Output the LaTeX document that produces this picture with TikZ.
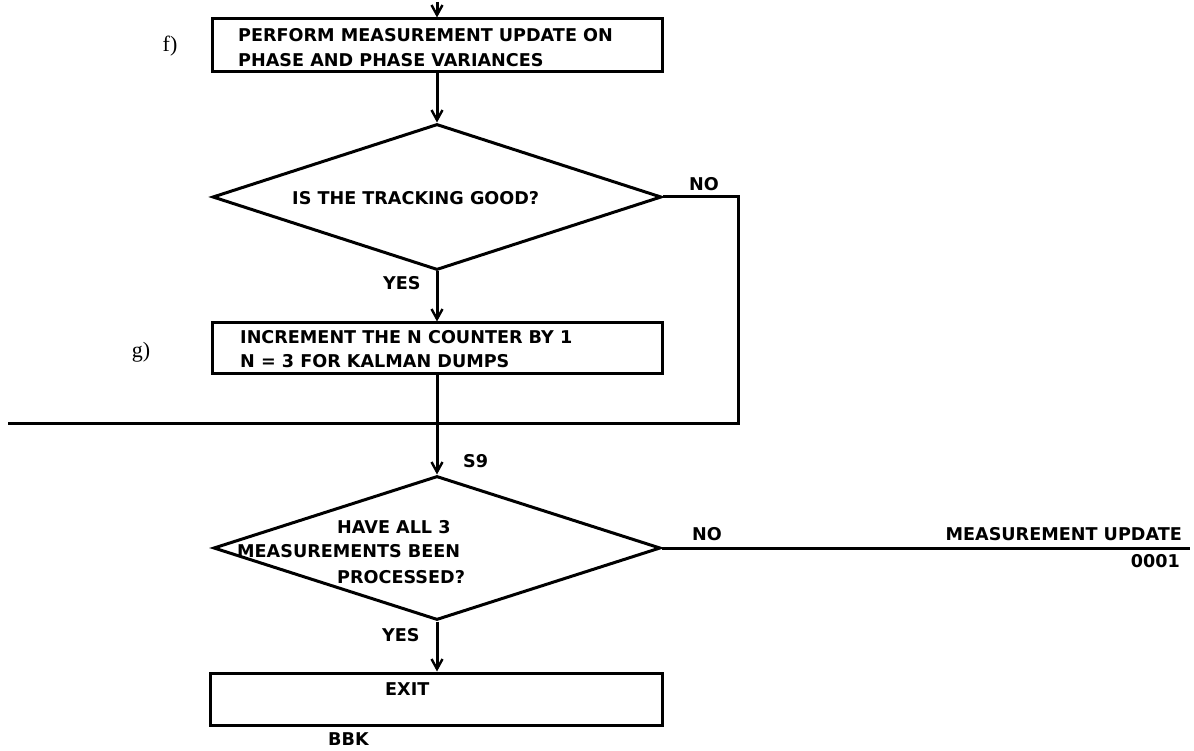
\documentclass[tikz,border=0pt]{standalone}
\usepackage{fontspec}
\setmainfont{DejaVu Sans}
\newfontfamily\labfont{Liberation Serif}
\usetikzlibrary{shapes.geometric,arrows.meta}
\tikzset{
  ln/.style={line width=3pt},
  arr/.style={ln,-{Straight Barb[length=10pt,width=11pt,line width=2.4pt]}},
  boxnode/.style={draw,line width=3pt,minimum width=#1,inner sep=0pt},
  dia/.style={draw,diamond,line width=3pt,inner sep=0pt},
  txt/.style={inner sep=0pt,anchor=base west,font=\fontsize{17.6}{19}\selectfont\bfseries},
  lab/.style={inner sep=0pt,font=\labfont\fontsize{22}{24}\selectfont}
}
\begin{document}
\begin{tikzpicture}[x=1pt,y=-1pt]
\useasboundingbox (0,0) rectangle (1194,751);
\fill[white] (0,0) rectangle (1194,751);
% boxes and decisions
\node[boxnode=450pt,minimum height=53pt] (f) at (437,45.5) {};
\node[txt] (ft1) at (238,42) {PERFORM MEASUREMENT UPDATE ON};
\node[txt] (ft2) at (238,67) {PHASE AND PHASE VARIANCES};
\node[lab] (flab) at (170,46) {f)};
\node[dia,minimum width=449pt,minimum height=146pt] (d1) at (437,197) {};
\node[txt] (d1t) at (292,205) {IS THE TRACKING GOOD?};
\node[txt] (no1) at (689,191) {NO};
\node[txt] (yes1) at (383,290) {YES};
\node[boxnode=450pt,minimum height=50pt] (g) at (437,348) {};
\node[txt] (gt1) at (240,344) {INCREMENT THE N COUNTER BY 1};
\node[txt] (gt2) at (240,367) {N = 3 FOR KALMAN DUMPS};
\node[lab] (glab) at (141,352) {g)};
\node[dia,minimum width=447pt,minimum height=144pt] (d2) at (437,548) {};
\node[txt] (d2t1) at (337,533) {HAVE ALL 3};
\node[txt] (d2t2) at (237,557) {MEASUREMENTS BEEN};
\node[txt] (d2t3) at (337,583) {PROCESSED?};
\node[txt] (s9) at (463,467) {S9};
\node[txt] (no2) at (692,540) {NO};
\node[txt,anchor=base east] (mu) at (1182,540) {MEASUREMENT UPDATE};
\node[txt,anchor=base east] (code) at (1180,567) {0001};
\node[txt] (yes2) at (382,641) {YES};
\node[boxnode=452pt,minimum height=52pt] (ex) at (436,699) {};
\node[txt] (ext) at (385,695) {EXIT};
\node[txt] (bbk) at (328,745) {BBK};
% coordinates
\coordinate (top) at (437,2);
\coordinate (j) at (437,423);
\coordinate (lft) at (8,423);
\coordinate (rc) at (738,197);
\coordinate (rb) at (738,423);
\coordinate (mr) at (1190,548);
% connectors
\draw[arr] (top) -- (f.north);
\draw[arr] (f.south) -- (d1.north);
\draw[arr] (d1.south) -- (g.north);
\draw[ln] (g.south) -- (j);
\draw[arr] (j) -- (d2.north);
\draw[ln] (d1.east) -- (rc) -- (rb) -- (lft);
\draw[ln] (d2.east) -- (mr);
\draw[arr] (d2.south) -- (d2.south |- ex.north);
\end{tikzpicture}
\end{document}
